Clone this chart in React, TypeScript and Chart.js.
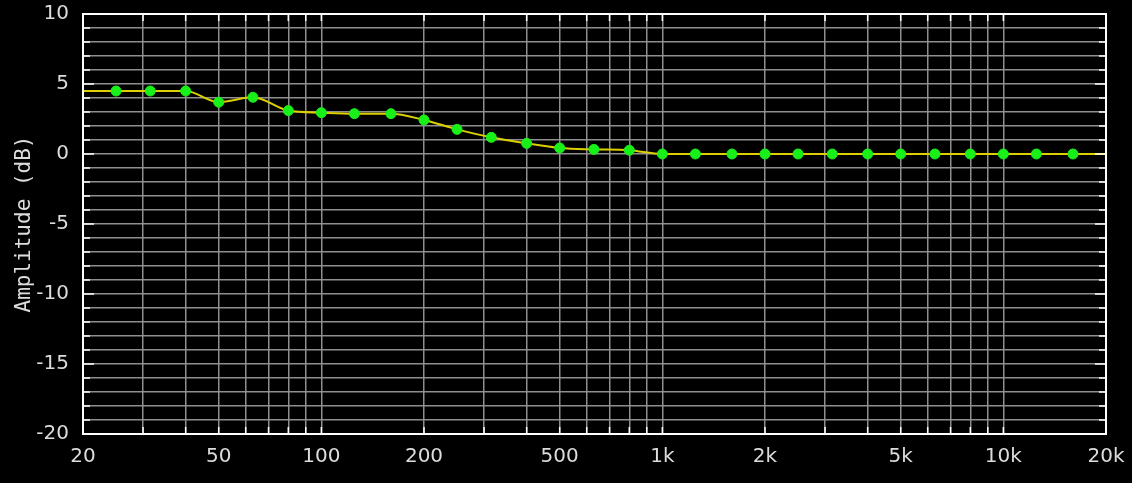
import { useEffect, useRef } from "react";
import { Chart, registerables } from "chart.js";

Chart.register(...registerables);

// 1/3-octave bands, with the curve's end points at 20 Hz and 20 kHz
const frequencies = [
  20, 25, 31.5, 40, 50, 63, 80, 100, 125, 160, 200, 250, 315, 400, 500, 630, 800,
  1000, 1250, 1600, 2000, 2500, 3150, 4000, 5000, 6300, 8000, 10000, 12500, 16000, 20000,
];
const amplitudes = [
  4.5, 4.5, 4.5, 4.5, 3.7, 4.05, 3.1, 2.95, 2.88, 2.88, 2.43, 1.76, 1.19, 0.76, 0.43, 0.33,
  0.27, 0, 0, 0, 0, 0, 0, 0, 0, 0, 0, 0, 0, 0, 0,
];

const xGridTicks = [
  20, 30, 40, 50, 60, 70, 80, 90, 100, 200, 300, 400, 500, 600, 700, 800, 900,
  1000, 2000, 3000, 4000, 5000, 6000, 7000, 8000, 9000, 10000, 20000,
];
const xLabelTicks = [20, 50, 100, 200, 500, 1000, 2000, 5000, 10000, 20000];

const GRID = "rgba(150,150,150,0.95)";
const TEXT = "#dcdcdc";

// white marks on the inside of the frame + the frame itself
const framePlugin = {
  id: "frame",
  afterDatasetsDraw(chart: any) {
    const { ctx, chartArea, scales } = chart;
    const { left, right, top, bottom } = chartArea;
    ctx.save();
    ctx.strokeStyle = "#ffffff";
    ctx.lineWidth = 1.5;
    ctx.beginPath();
    scales.x.ticks.forEach((t: any) => {
      const px = scales.x.getPixelForValue(t.value);
      ctx.moveTo(px, top);
      ctx.lineTo(px, top + 7);
      ctx.moveTo(px, bottom);
      ctx.lineTo(px, bottom - 7);
    });
    scales.y.ticks.forEach((t: any) => {
      const py = scales.y.getPixelForValue(t.value);
      const len = t.value % 5 === 0 ? 11 : 7;
      ctx.moveTo(left, py);
      ctx.lineTo(left + len, py);
      ctx.moveTo(right, py);
      ctx.lineTo(right - len, py);
    });
    ctx.stroke();
    ctx.lineWidth = 2;
    ctx.strokeRect(left, top, right - left, bottom - top);
    ctx.restore();
  },
};

export default function App() {
  const chartRef = useRef<Chart | null>(null);
  const canvasRef = useRef<HTMLCanvasElement>(null);

  useEffect(() => {
    if (!canvasRef.current) return;
    if (chartRef.current) chartRef.current.destroy();

    const last = frequencies.length - 1;

    chartRef.current = new Chart(canvasRef.current, {
      type: "line",
      data: {
        datasets: [
          {
            data: frequencies.map((f, i) => ({ x: f, y: amplitudes[i] })),
            borderColor: "#dcd000",
            borderWidth: 2,
            cubicInterpolationMode: "monotone",
            pointRadius: (c: any) => (c.dataIndex === 0 || c.dataIndex === last ? 0 : 5),
            pointBackgroundColor: "#19f019",
            pointBorderColor: "#19f019",
            pointBorderWidth: 1,
          },
        ],
      },
      options: {
        animation: false,
        responsive: true,
        maintainAspectRatio: false,
        layout: { padding: { top: 14, right: 26, left: 0, bottom: 0 } },
        plugins: { legend: { display: false }, tooltip: { enabled: false } },
        scales: {
          x: {
            type: "logarithmic",
            min: 20,
            max: 20000,
            afterBuildTicks: (scale: any) => {
              scale.ticks = xGridTicks.map((v) => ({ value: v }));
            },
            afterFit: (scale: any) => {
              scale.height = 49;
              scale.paddingLeft = 0;
              scale.paddingRight = 0;
            },
            grid: { color: GRID, lineWidth: 1.5, drawTicks: false },
            border: { display: false },
            ticks: {
              autoSkip: false,
              maxRotation: 0,
              padding: 11,
              color: TEXT,
              font: { family: "DejaVu Sans", size: 20 },
              callback: (v: any) => {
                const n = Number(v);
                if (!xLabelTicks.includes(n)) return "";
                return n >= 1000 ? `${n / 1000}k` : String(n);
              },
            },
          },
          y: {
            type: "linear",
            min: -20,
            max: 10,
            afterFit: (scale: any) => {
              scale.width = 83;
              scale.paddingTop = 0;
              scale.paddingBottom = 0;
            },
            grid: { color: GRID, lineWidth: 1.5, drawTicks: false },
            border: { display: false },
            ticks: {
              stepSize: 1,
              autoSkip: false,
              padding: 14,
              color: TEXT,
              font: { family: "DejaVu Sans", size: 20 },
              callback: (v: any) => (Number(v) % 5 === 0 ? String(v) : ""),
            },
            title: {
              display: true,
              text: "Amplitude (dB)",
              color: TEXT,
              font: { family: "DejaVu Sans Mono", size: 21 },
              padding: { top: 12, bottom: 0 },
            },
          },
        },
      },
      plugins: [framePlugin],
    } as any);

    return () => {
      if (chartRef.current) {
        chartRef.current.destroy();
        chartRef.current = null;
      }
    };
  }, []);

  return (
    <div
      style={{
        position: "absolute",
        left: 0,
        top: 0,
        width: 1132,
        height: 483,
        background: "#000",
      }}
    >
      <canvas ref={canvasRef} />
    </div>
  );
}
